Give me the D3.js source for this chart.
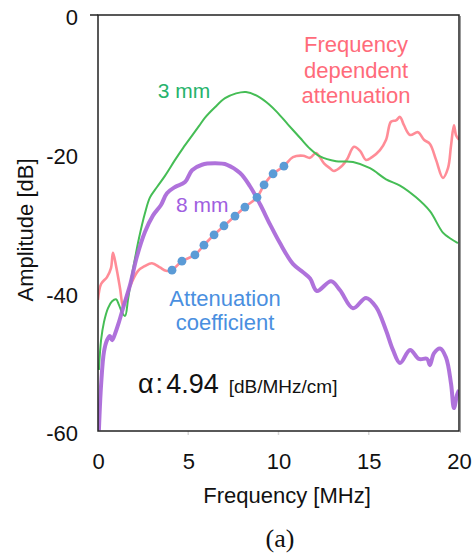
<!DOCTYPE html>
<html>
<head>
<meta charset="utf-8">
<script src="https://cdn.jsdelivr.net/npm/d3@7"></script>
<style>
  html, body { margin: 0; padding: 0; background: #fff; }
  svg { display: block; }
  text { font-family: "Liberation Sans", Arial, Helvetica, sans-serif; }
</style>
</head>
<body>
<svg id="chart" width="476" height="555"></svg>
<script>
// ---- data (frequency MHz, amplitude dB) ----
const xTicks = [0, 5, 10, 15, 20];
const yTicks = [0, -20, -40, -60];

const green3mm = [
  [0.05,-51.2],[0.17,-46.9],[0.33,-44.3],[0.55,-42.3],[0.78,-41.3],[1.0,-41.0],
  [1.16,-41.8],[1.33,-42.9],[1.5,-43.4],[1.66,-41.1],[1.83,-38.2],[2.05,-35.1],
  [2.27,-32.2],[2.6,-28.6],[2.88,-26.3],[3.27,-24.8],[3.71,-23.2],[4.27,-20.9],
  [4.71,-19.2],[5.21,-17.4],[5.6,-16.0],[5.93,-14.8],[6.48,-13.3],[7.04,-12.0],
  [7.65,-11.3],[8.2,-11.1],[8.98,-11.9],[9.53,-13.0],[9.92,-14.0],[10.53,-15.8],
  [11.19,-17.7],[11.75,-19.3],[12.3,-20.4],[13.19,-21.1],[14.13,-21.2],[15.07,-22.1],
  [15.96,-23.7],[16.73,-24.6],[17.62,-26.3],[18.39,-28.3],[19.11,-31.4],[19.5,-32.2],
  [19.94,-32.9]
];

const purple8mm = [
  [0.05,-59.9],[0.17,-53.4],[0.33,-48.6],[0.5,-46.9],[0.66,-46.3],[0.78,-46.9],
  [0.94,-46.0],[1.16,-44.3],[1.44,-41.8],[1.77,-39.0],[2.16,-34.8],[2.6,-31.3],
  [3.05,-28.9],[3.49,-27.4],[3.82,-25.7],[4.27,-24.8],[4.82,-24.1],[5.21,-22.4],
  [5.76,-21.6],[6.48,-21.4],[7.15,-21.6],[7.87,-22.8],[8.42,-24.7],[8.98,-27.3],
  [9.53,-30.2],[10.08,-32.9],[10.8,-35.9],[11.36,-37.1],[11.75,-38.0],[12.13,-39.8],
  [12.91,-38.4],[13.41,-39.7],[14.13,-42.3],[14.85,-40.8],[15.4,-42.1],[15.96,-45.5],
  [16.34,-48.3],[16.73,-50.2],[17.29,-48.3],[17.78,-49.6],[18.23,-49.6],[18.39,-50.5],
  [18.61,-48.8],[18.95,-48.1],[19.28,-49.4],[19.56,-53.2],[19.72,-56.7],[19.89,-54.8],
  [20.0,-54.1]
];

const attenuation = [
  [0.0,-41.1],[0.17,-38.8],[0.5,-37.8],[0.72,-36.5],[0.83,-34.3],[1.0,-36.2],
  [1.22,-39.4],[1.39,-42.1],[1.55,-40.8],[1.83,-38.8],[2.22,-36.9],[2.6,-36.2],
  [2.99,-35.8],[3.43,-36.4],[3.77,-36.9],[4.1,-36.8],[4.65,-35.5],[5.37,-34.6],
  [5.87,-33.2],[6.43,-31.7],[6.98,-30.4],[7.59,-29.0],[8.14,-27.7],[8.81,-26.3],
  [9.2,-24.5],[9.7,-22.9],[10.3,-21.8],[10.8,-20.5],[11.36,-20.3],[11.75,-20.6],
  [12.08,-19.9],[12.52,-21.4],[12.85,-22.1],[13.07,-22.5],[13.46,-21.9],[13.8,-20.8],
  [14.18,-19.0],[14.52,-19.6],[14.85,-20.9],[15.18,-20.5],[15.62,-19.5],[15.96,-18.0],
  [16.23,-15.4],[16.51,-15.2],[16.73,-14.7],[16.95,-15.9],[17.29,-17.3],[17.73,-16.9],
  [18.06,-18.0],[18.39,-18.6],[18.73,-20.9],[19.11,-23.5],[19.39,-22.1],[19.56,-18.8],
  [19.72,-15.9],[19.83,-17.3],[20.0,-18.0]
];

const fitDots = [
  [4.1,-36.8],[4.65,-35.5],[5.37,-34.6],[5.87,-33.2],[6.43,-31.7],[6.98,-30.4],
  [7.59,-29.0],[8.14,-27.7],[8.81,-26.3],[9.2,-24.5],[9.7,-22.9],[10.3,-21.8]
];

// ---- chart ----
const svg = d3.select("#chart");
const x = d3.scaleLinear().domain([0, 20]).range([98, 459]);
const y = d3.scaleLinear().domain([0, -60]).range([15, 431]);

const line = d3.line().x(d => x(d[0])).y(d => y(d[1])).curve(d3.curveCatmullRom.alpha(0.5));

svg.append("defs").append("clipPath").attr("id", "plotclip")
  .append("rect").attr("x", x(0)).attr("y", y(0)).attr("width", x(20) - x(0)).attr("height", y(-60) - y(0));

// faint x ticks
svg.append("g").selectAll("line").data(xTicks.slice(1, 4)).join("line")
  .attr("x1", d => x(d)).attr("x2", d => x(d))
  .attr("y1", y(-60)).attr("y2", y(-60) + 4)
  .attr("stroke", "#d8d8d8").attr("stroke-width", 1.5);

const plot = svg.append("g").attr("clip-path", "url(#plotclip)");

plot.append("path").datum(attenuation).attr("d", line)
  .attr("fill", "none").attr("stroke", "#ff6f7d").attr("stroke-opacity", 0.8)
  .attr("stroke-width", 2.6).attr("stroke-linejoin", "round");

plot.append("path").datum(green3mm).attr("d", line)
  .attr("fill", "none").attr("stroke", "#45bd55").attr("stroke-width", 2)
  .attr("stroke-linejoin", "round");

plot.append("path").datum(purple8mm).attr("d", line)
  .attr("fill", "none").attr("stroke", "#a866d8").attr("stroke-width", 4)
  .attr("stroke-linejoin", "round").attr("stroke-opacity", 0.92);

plot.append("g").selectAll("circle").data(fitDots).join("circle")
  .attr("cx", d => x(d[0])).attr("cy", d => y(d[1])).attr("r", 4.4)
  .attr("fill", "#5b9bd6");

// frame
const frame = svg.append("g").attr("fill", "none");
frame.append("rect").attr("x", x(0)).attr("y", y(0))
  .attr("width", x(20) - x(0)).attr("height", y(-60) - y(0))
  .attr("stroke", "#222").attr("stroke-width", 1.5);
frame.append("line").attr("x1", x(20) + 1.5).attr("x2", x(20) + 1.5)
  .attr("y1", y(0) + 1).attr("y2", y(-60) + 1.5).attr("stroke", "#999").attr("stroke-width", 1);
frame.append("line").attr("x1", x(0) - 8).attr("x2", x(0))
  .attr("y1", y(0)).attr("y2", y(0)).attr("stroke", "#222").attr("stroke-width", 1.5);

// axes labels via d3 scales
const axX = d3.axisBottom(x).tickValues(xTicks).tickSize(0).tickPadding(22);
const gx = svg.append("g").attr("transform", `translate(0,${y(-60)})`).call(axX);
gx.select(".domain").remove();
gx.selectAll("text").attr("font-size", 22).attr("fill", "#111")
  .attr("font-family", "Liberation Sans, Arial, sans-serif");

const axY = d3.axisLeft(y).tickValues(yTicks).tickSize(0).tickPadding(20)
  .tickFormat(d => String(d));
const gy = svg.append("g").attr("transform", `translate(${x(0)},0)`).call(axY);
gy.select(".domain").remove();
gy.selectAll("text").attr("font-size", 22).attr("fill", "#111").attr("dy", "0.45em")
  .attr("font-family", "Liberation Sans, Arial, sans-serif");

svg.append("text").attr("x", 287).attr("y", 503).attr("text-anchor", "middle")
  .attr("font-size", 22).attr("fill", "#111").text("Frequency [MHz]");

svg.append("text").attr("transform", "translate(33,230) rotate(-90)")
  .attr("text-anchor", "middle").attr("font-size", 22).attr("fill", "#111")
  .text("Amplitude [dB]");

svg.append("text").attr("x", 280).attr("y", 547).attr("text-anchor", "middle")
  .attr("font-size", 26).attr("fill", "#111")
  .style("font-family", "'Liberation Serif', 'Times New Roman', serif").text("(a)");

// annotations
svg.append("text").attr("x", 184).attr("y", 98).attr("text-anchor", "middle")
  .attr("font-size", 21).attr("fill", "#26b36c").text("3 mm");
svg.append("text").attr("x", 176).attr("y", 212).attr("text-anchor", "start")
  .attr("font-size", 21).attr("fill", "#a05ee0").text("8 mm");

const fda = svg.append("text").attr("text-anchor", "middle").attr("font-size", 22).attr("fill", "#ff6b7a");
["Frequency", "dependent", "attenuation"].forEach((t, i) => {
  fda.append("tspan").attr("x", 356).attr("y", 52 + i * 25.5).text(t);
});

const att = svg.append("text").attr("text-anchor", "middle").attr("font-size", 22).attr("fill", "#4a8fe0");
["Attenuation", "coefficient"].forEach((t, i) => {
  att.append("tspan").attr("x", 225).attr("y", 306 + i * 24).text(t);
});

const alpha = svg.append("text").attr("x", 138).attr("y", 393).attr("fill", "#111");
alpha.append("tspan").attr("font-size", 27).text("α");
alpha.append("tspan").attr("font-size", 27).attr("dx", 2).text(":");
alpha.append("tspan").attr("font-size", 27).attr("dx", 3).text("4.94");
alpha.append("tspan").attr("font-size", 19).attr("dx", 10).text("[dB/MHz/cm]");
</script>
</body>
</html>
